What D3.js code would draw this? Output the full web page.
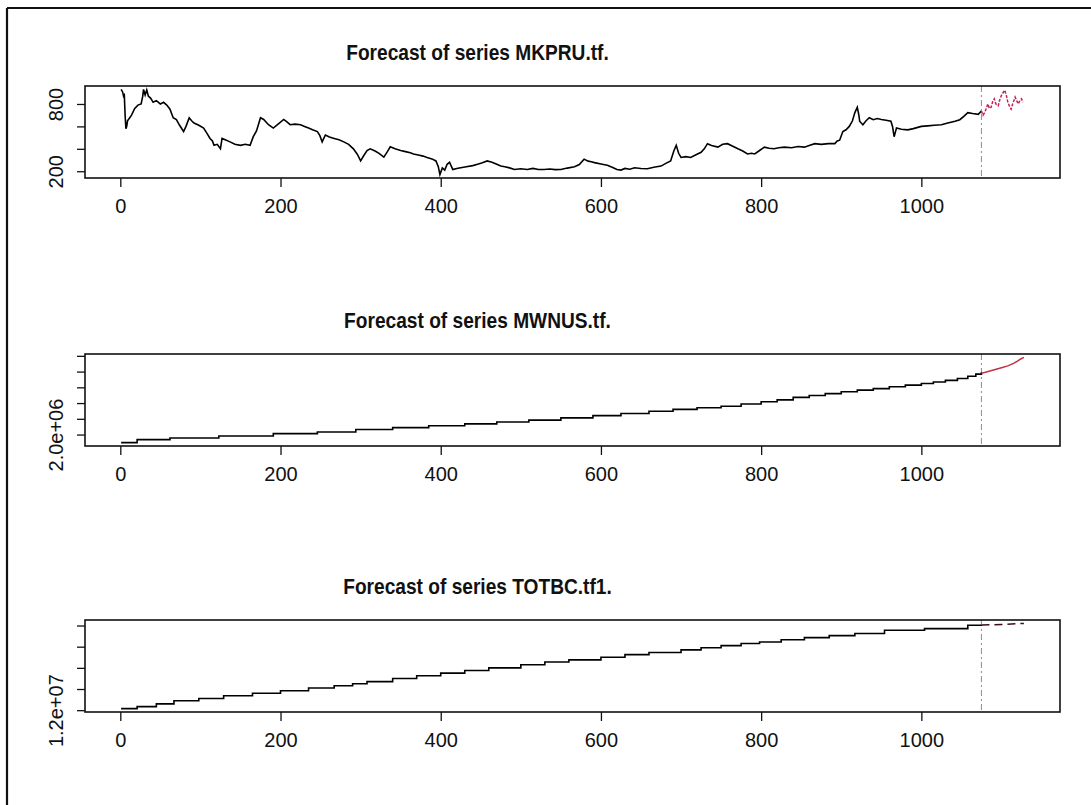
<!DOCTYPE html>
<html>
<head>
<meta charset="utf-8">
<script src="https://cdn.jsdelivr.net/npm/d3@7"></script>
<style>
  body { margin: 0; background: #fff; }
  svg { display: block; }
  .axis text { font-family: "Liberation Sans", Arial, sans-serif; font-size: 20px; fill: #111; }
  .axis line { stroke: #111; stroke-width: 1.3; }
  .title { font-family: "Liberation Sans", Arial, sans-serif; font-size: 22px; font-weight: bold; fill: #111; }
</style>
</head>
<body>
<div id="chart"></div>
<script>
// series 1: MKPRU.tf (history, then forecast)
var mkpruT = [1,3,4,5,6,7,8,9,12,14,18,22,26,28,29,31,33,35,38,41,45,50,54,58,62,66,70,74,79,82,86,89,92,98,104,108,112,115,117,121,125,127,131,137,143,150,156,162,166,170,175,179,185,191,197,204,208,212,218,225,230,235,240,246,249,252,256,261,267,273,279,285,291,296,300,304,308,312,318,323,329,333,337,343,350,356,362,366,372,378,383,389,394,397,399,402,405,408,411,415,420,425,432,440,446,452,458,464,470,475,480,486,492,500,508,515,522,529,536,543,550,558,567,573,579,584,588,592,600,608,614,620,625,630,636,642,650,658,666,675,681,687,691,694,697,700,706,712,718,725,729,733,738,746,752,758,764,771,777,783,788,792,798,804,810,816,822,829,838,846,854,860,867,875,884,892,895,898,902,906,910,914,917,920,922,923,925,927,931,935,940,945,950,956,962,964,966,968,969,975,983,990,1000,1008,1016,1025,1033,1042,1048,1053,1058,1064,1071,1075];
var mkpruV = [930,905,870,880,700,580,600,650,680,700,760,790,800,870,930,880,925,870,850,815,830,800,815,790,754,677,660,610,554,600,677,650,630,610,585,540,492,470,431,440,400,492,480,462,440,431,440,431,508,560,677,662,615,585,620,662,640,615,620,615,600,585,570,554,520,462,523,505,492,480,462,440,400,350,292,340,385,400,380,360,326,370,418,400,385,375,365,354,345,335,323,310,292,240,170,230,210,262,280,216,225,231,240,250,262,275,292,280,262,246,240,230,216,222,216,225,215,216,220,214,216,228,240,260,308,290,285,277,265,253,235,215,210,225,218,231,225,222,235,246,270,292,380,431,360,323,330,323,345,369,400,446,430,415,440,446,425,400,380,354,360,354,385,415,405,400,410,415,410,420,415,430,446,440,446,446,470,477,554,570,600,650,723,770,700,646,630,615,650,677,660,670,662,655,646,600,508,560,585,575,569,580,600,605,610,615,630,646,660,690,723,715,708,738];
var mkpruFcT = [1075,1077,1079,1081,1083,1085,1087,1089,1091,1093,1096,1098,1100,1102,1104,1106,1108,1110,1112,1114,1117,1119,1121,1123,1125,1127];
var mkpruFcV = [738,700,723,760,800,760,770,820,846,800,785,840,877,900,923,880,815,780,754,800,862,830,800,830,846,815];

// series 2: MWNUS.tf
var mwnusT = [1,21,62,123,191,246,294,340,385,430,470,510,550,590,625,660,690,720,750,775,800,820,840,860,880,900,920,940,960,980,1000,1015,1030,1045,1058,1068,1075];
var mwnusV = [1.745e6,1.84e6,1.89e6,1.955e6,2.03e6,2.08e6,2.16e6,2.22e6,2.28e6,2.34e6,2.40e6,2.46e6,2.53e6,2.60e6,2.67e6,2.74e6,2.80e6,2.85e6,2.90e6,2.97e6,3.04e6,3.10e6,3.18e6,3.24e6,3.30e6,3.36e6,3.41e6,3.46e6,3.52e6,3.57e6,3.62e6,3.67e6,3.72e6,3.78e6,3.85e6,3.92e6,3.98e6];
var mwnusFcT = [1075,1080,1090,1100,1108,1115,1120,1124,1128];
var mwnusFcV = [3.95e6,3.98e6,4.05e6,4.12e6,4.18e6,4.26e6,4.33e6,4.40e6,4.45e6];

// series 3: TOTBC.tf1
var totbcT = [1,21,45,67,98,129,165,200,235,267,290,308,340,370,400,430,460,500,530,560,600,630,660,700,725,750,775,798,825,854,885,917,954,1004,1058,1075];
var totbcV = [1.215e7,1.234e7,1.26e7,1.289e7,1.31e7,1.336e7,1.36e7,1.384e7,1.41e7,1.431e7,1.45e7,1.47e7,1.50e7,1.525e7,1.55e7,1.575e7,1.60e7,1.63e7,1.655e7,1.675e7,1.70e7,1.725e7,1.745e7,1.77e7,1.79e7,1.81e7,1.83e7,1.844e7,1.865e7,1.886e7,1.905e7,1.924e7,1.955e7,1.971e7,2.003e7,2.005e7];
var totbcFcT = [1075,1100,1128];
var totbcFcV = [2.005e7,2.01e7,2.02e7];

var xTicks = [0, 200, 400, 600, 800, 1000];
var forecastStart = 1075;

var titles = ["Forecast of series MKPRU.tf.", "Forecast of series MWNUS.tf.", "Forecast of series TOTBC.tf1."];
var yTicks1 = [200, 400, 600, 800];
var yTickLabels1 = ["200", "", "", "800"];
var yTicks2 = [2.0e6, 2.5e6, 3.0e6, 3.5e6, 4.0e6, 4.5e6];
var yTickLabels2 = ["2.0e+06", "", "", "", "", ""];
var yTicks3 = [1.2e7, 1.4e7, 1.6e7, 1.8e7, 2.0e7];
var yTickLabels3 = ["1.2e+07", "", "", "", ""];

function zip(t, v) {
  return t.map(function(d, i) { return [d, v[i]]; });
}

// R style 4% padding
function padded(lo, hi) {
  var e = (hi - lo) * 0.04;
  return [lo - e, hi + e];
}

var W = 1091, H = 805;
var svg = d3.select("#chart").append("svg")
  .attr("width", W).attr("height", H);

// outer frame (top and left only visible)
svg.append("line").attr("x1", 7).attr("x2", W).attr("y1", 8).attr("y2", 8)
  .attr("stroke", "#111").attr("stroke-width", 2.2);
svg.append("line").attr("x1", 7).attr("x2", 7).attr("y1", 8).attr("y2", H)
  .attr("stroke", "#111").attr("stroke-width", 2.2);

var boxLeft = 85, boxRight = 1060, boxH = 92;
var panels = [
  { top: 86, hist: zip(mkpruT, mkpruV), fc: zip(mkpruFcT, mkpruFcV), ticks: yTicks1, labels: yTickLabels1,
    fcColor: "#c4205a", fcDash: "3,1.5", histStep: false },
  { top: 354, hist: zip(mwnusT, mwnusV), fc: zip(mwnusFcT, mwnusFcV), ticks: yTicks2, labels: yTickLabels2,
    fcColor: "#c0304a", fcDash: null, histStep: true },
  { top: 620, hist: zip(totbcT, totbcV), fc: zip(totbcFcT, totbcFcV), ticks: yTicks3, labels: yTickLabels3,
    fcColor: "#3a0f18", fcDash: "8,5", histStep: true }
];

var x = d3.scaleLinear()
  .domain(padded(1, 1128))
  .range([boxLeft, boxRight]);

panels.forEach(function(p, i) {
  var all = p.hist.concat(p.fc);
  var y = d3.scaleLinear()
    .domain(padded(d3.min(all, function(d) { return d[1]; }), d3.max(all, function(d) { return d[1]; })))
    .range([p.top + boxH, p.top]);

  var g = svg.append("g");

  // title is a bit narrow in the original, squeeze horizontally
  var tx = 477.5, ty = p.top - 26;
  g.append("text")
    .attr("class", "title")
    .attr("text-anchor", "middle")
    .attr("transform", "translate(" + tx + "," + ty + ") scale(0.87,1)")
    .text(titles[i]);

  // forecast origin marker
  g.append("line")
    .attr("x1", x(forecastStart)).attr("x2", x(forecastStart))
    .attr("y1", p.top).attr("y2", p.top + boxH)
    .attr("stroke", "#b07898").attr("stroke-width", 1)
    .attr("stroke-dasharray", "6,3,2,3");

  var line = d3.line()
    .x(function(d) { return x(d[0]); })
    .y(function(d) { return y(d[1]); })
    .curve(p.histStep ? d3.curveStepAfter : d3.curveLinear);

  g.append("path")
    .datum(p.hist)
    .attr("d", line)
    .attr("fill", "none")
    .attr("stroke", "#000")
    .attr("stroke-width", 1.6);

  var fcLine = d3.line()
    .x(function(d) { return x(d[0]); })
    .y(function(d) { return y(d[1]); });

  g.append("path")
    .datum(p.fc)
    .attr("d", fcLine)
    .attr("fill", "none")
    .attr("stroke", p.fcColor)
    .attr("stroke-width", 1.5)
    .attr("stroke-dasharray", p.fcDash);

  // box
  g.append("rect")
    .attr("x", boxLeft).attr("y", p.top)
    .attr("width", boxRight - boxLeft).attr("height", boxH)
    .attr("fill", "none").attr("stroke", "#111").attr("stroke-width", 1.6);

  var xAxis = d3.axisBottom(x).tickValues(xTicks)
    .tickFormat(d3.format("d"))
    .tickSize(9).tickPadding(12);
  var gx = g.append("g")
    .attr("class", "axis")
    .attr("transform", "translate(0," + (p.top + boxH) + ")")
    .call(xAxis);
  gx.select(".domain").remove();

  var yAxis = d3.axisLeft(y).tickValues(p.ticks)
    .tickFormat(function(d, k) { return p.labels[k]; })
    .tickSize(8);
  var gy = g.append("g")
    .attr("class", "axis")
    .attr("transform", "translate(" + boxLeft + ",0)")
    .call(yAxis);
  gy.select(".domain").remove();
  gy.selectAll(".tick text")
    .attr("transform", "rotate(-90)")
    .attr("x", 0)
    .attr("y", -22)
    .attr("dy", "0")
    .attr("text-anchor", "middle");
});
</script>
</body>
</html>
